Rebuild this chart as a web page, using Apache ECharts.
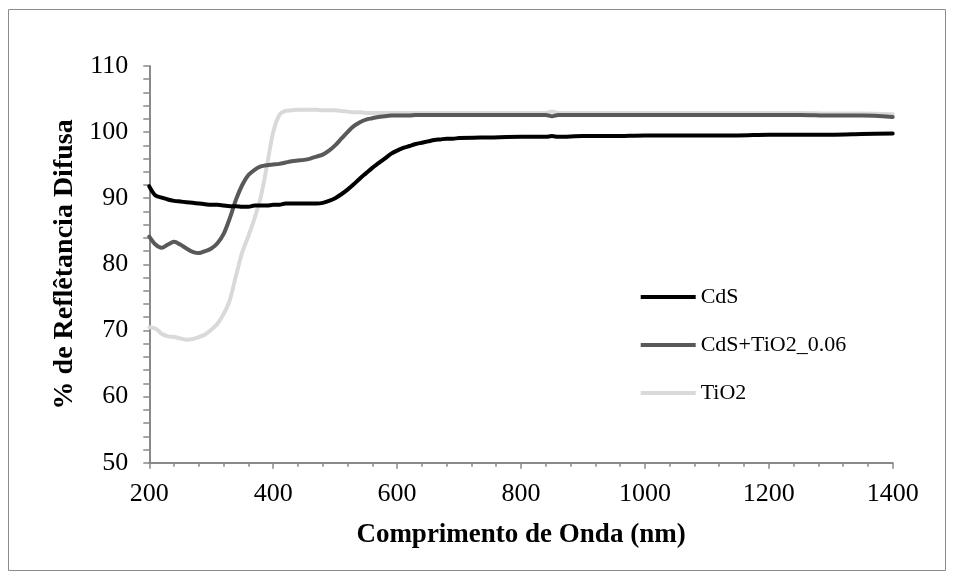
<!DOCTYPE html>
<html>
<head>
<meta charset="utf-8">
<title>Reflectância Difusa</title>
<script src="https://cdn.jsdelivr.net/npm/echarts@6/dist/echarts.min.js"></script>
<style>
  html, body { margin: 0; padding: 0; background: #fff; }
  #chart { width: 954px; height: 578px; }
</style>
</head>
<body>
<div id="chart"></div>
<script>
// Wavelength grid (nm) shared by all three spectra
const wavelength = [
  200, 210, 220, 230, 240, 250, 260, 270, 280, 290,
  300, 310, 320, 330, 340, 350, 360, 370, 380, 390,
  400, 410, 420, 430, 440, 450, 460, 470, 480, 490,
  500, 510, 520, 530, 540, 550, 560, 570, 580, 590,
  600, 610, 620, 630, 640, 650, 660, 670, 680, 690,
  700, 750, 800, 840, 850, 860, 900, 950, 1000, 1050,
  1100, 1150, 1200, 1250, 1300, 1350, 1400
];

// % diffuse reflectance
const cds = [
  91.8, 90.4, 90.1, 89.8, 89.6, 89.5, 89.4, 89.3, 89.2, 89.1,
  89.0, 89.0, 88.9, 88.8, 88.8, 88.7, 88.7, 88.9, 88.9, 88.9,
  89.0, 89.0, 89.2, 89.2, 89.2, 89.2, 89.2, 89.2, 89.3, 89.6,
  90.0, 90.6, 91.3, 92.1, 93.0, 93.8, 94.6, 95.3, 96.0, 96.7,
  97.2, 97.6, 97.9, 98.2, 98.4, 98.6, 98.8, 98.9, 99.0, 99.0,
  99.1, 99.2, 99.3, 99.3, 99.4, 99.3, 99.4, 99.4, 99.5, 99.5,
  99.5, 99.5, 99.6, 99.6, 99.6, 99.7, 99.8
];

const cdsTio2 = [
  84.2, 83.0, 82.5, 83.0, 83.4, 83.0, 82.4, 81.9, 81.7, 82.0,
  82.4, 83.2, 84.6, 87.0, 89.8, 92.0, 93.5, 94.3, 94.8, 95.0,
  95.1, 95.2, 95.4, 95.6, 95.7, 95.8, 96.0, 96.3, 96.6, 97.2,
  98.0, 99.0, 100.0, 100.9, 101.5, 101.9, 102.1, 102.3, 102.4, 102.5,
  102.5, 102.5, 102.5, 102.6, 102.6, 102.6, 102.6, 102.6, 102.6, 102.6,
  102.6, 102.6, 102.6, 102.6, 102.4, 102.6, 102.6, 102.6, 102.6, 102.6,
  102.6, 102.6, 102.6, 102.6, 102.5, 102.5, 102.3
];

const tio2 = [
  70.5, 70.3, 69.5, 69.1, 69.0, 68.8, 68.6, 68.7, 69.0, 69.4,
  70.1, 71.0, 72.5, 74.6, 78.3, 81.8, 84.3, 87.0, 90.2, 95.0,
  100.0, 102.6, 103.2, 103.3, 103.4, 103.4, 103.4, 103.4, 103.3, 103.3,
  103.3, 103.2, 103.1, 103.0, 103.0, 102.9, 102.9, 102.9, 102.9, 102.9,
  102.9, 102.9, 102.9, 102.9, 102.9, 102.9, 102.9, 102.9, 102.9, 102.9,
  102.9, 102.9, 102.9, 102.9, 103.1, 102.9, 102.9, 102.9, 102.9, 102.9,
  102.9, 102.9, 102.9, 102.9, 102.8, 102.8, 102.7
];

const seriesNames = ['CdS', 'CdS+TiO2_0.06', 'TiO2'];
const seriesColors = ['#000000', '#595959', '#d9d9d9'];

const xTitle = 'Comprimento de Onda (nm)';
const yTitle = '% de Reflêtancia Difusa';

const pairs = (ys) => wavelength.map((w, i) => [w, ys[i]]);

const font = 'Liberation Serif, "Times New Roman", serif';
const axisGray = '#898989';

const chart = echarts.init(document.getElementById('chart'), null, { renderer: 'canvas' });

chart.setOption({
  backgroundColor: '#ffffff',
  animation: false,
  color: seriesColors,
  textStyle: { fontFamily: font, color: '#000' },
  graphic: [{
    type: 'rect',
    shape: { x: 8.5, y: 9.5, width: 937, height: 561 },
    style: { fill: 'none', stroke: '#8c8c8c', lineWidth: 1 },
    silent: true
  }],
  grid: { left: 149.3, right: 61.3, top: 66, bottom: 115.3, containLabel: false },
  legend: {
    orient: 'vertical',
    left: 635.7,
    top: 280,
    icon: 'rect',
    itemWidth: 55,
    itemHeight: 4,
    itemGap: 24,
    data: seriesNames,
    textStyle: { fontFamily: font, fontSize: 22, lineHeight: 24, color: '#000' }
  },
  xAxis: {
    type: 'value',
    min: 200,
    max: 1400,
    interval: 200,
    name: xTitle,
    nameLocation: 'middle',
    nameGap: 59,
    nameTextStyle: { fontFamily: font, fontSize: 27, fontWeight: 'bold', color: '#000' },
    axisLine: { show: true, onZero: false, lineStyle: { color: axisGray, width: 2 } },
    axisTick: { show: true, inside: false, length: 6, lineStyle: { color: axisGray, width: 1.5 } },
    minorTick: { show: true, splitNumber: 5, length: 4, lineStyle: { color: axisGray, width: 1.5 } },
    axisLabel: { margin: 18, fontFamily: font, fontSize: 26, color: '#000', formatter: (v) => String(v) },
    splitLine: { show: false }
  },
  yAxis: {
    type: 'value',
    min: 50,
    max: 110,
    interval: 10,
    name: yTitle,
    nameLocation: 'middle',
    nameGap: 71,
    nameTextStyle: { fontFamily: font, fontSize: 28, fontWeight: 'bold', color: '#000' },
    axisLine: { show: true, onZero: false, lineStyle: { color: axisGray, width: 2 } },
    axisTick: { show: true, inside: false, length: 6, lineStyle: { color: axisGray, width: 1.5 } },
    minorTick: { show: true, splitNumber: 5, length: 6, lineStyle: { color: axisGray, width: 1.5 } },
    axisLabel: { margin: 21, fontFamily: font, fontSize: 26, color: '#000', formatter: (v) => String(v) },
    splitLine: { show: false }
  },
  series: [
    { name: seriesNames[0], data: pairs(cds) },
    { name: seriesNames[1], data: pairs(cdsTio2) },
    { name: seriesNames[2], data: pairs(tio2) }
  ].map((s, i) => ({
    type: 'line',
    name: s.name,
    data: s.data,
    showSymbol: false,
    symbol: 'none',
    smooth: 0.3,
    z: 3 - i,
    lineStyle: { color: seriesColors[i], width: 4, cap: 'round', join: 'round' },
    itemStyle: { color: seriesColors[i] }
  }))
});
</script>
</body>
</html>
